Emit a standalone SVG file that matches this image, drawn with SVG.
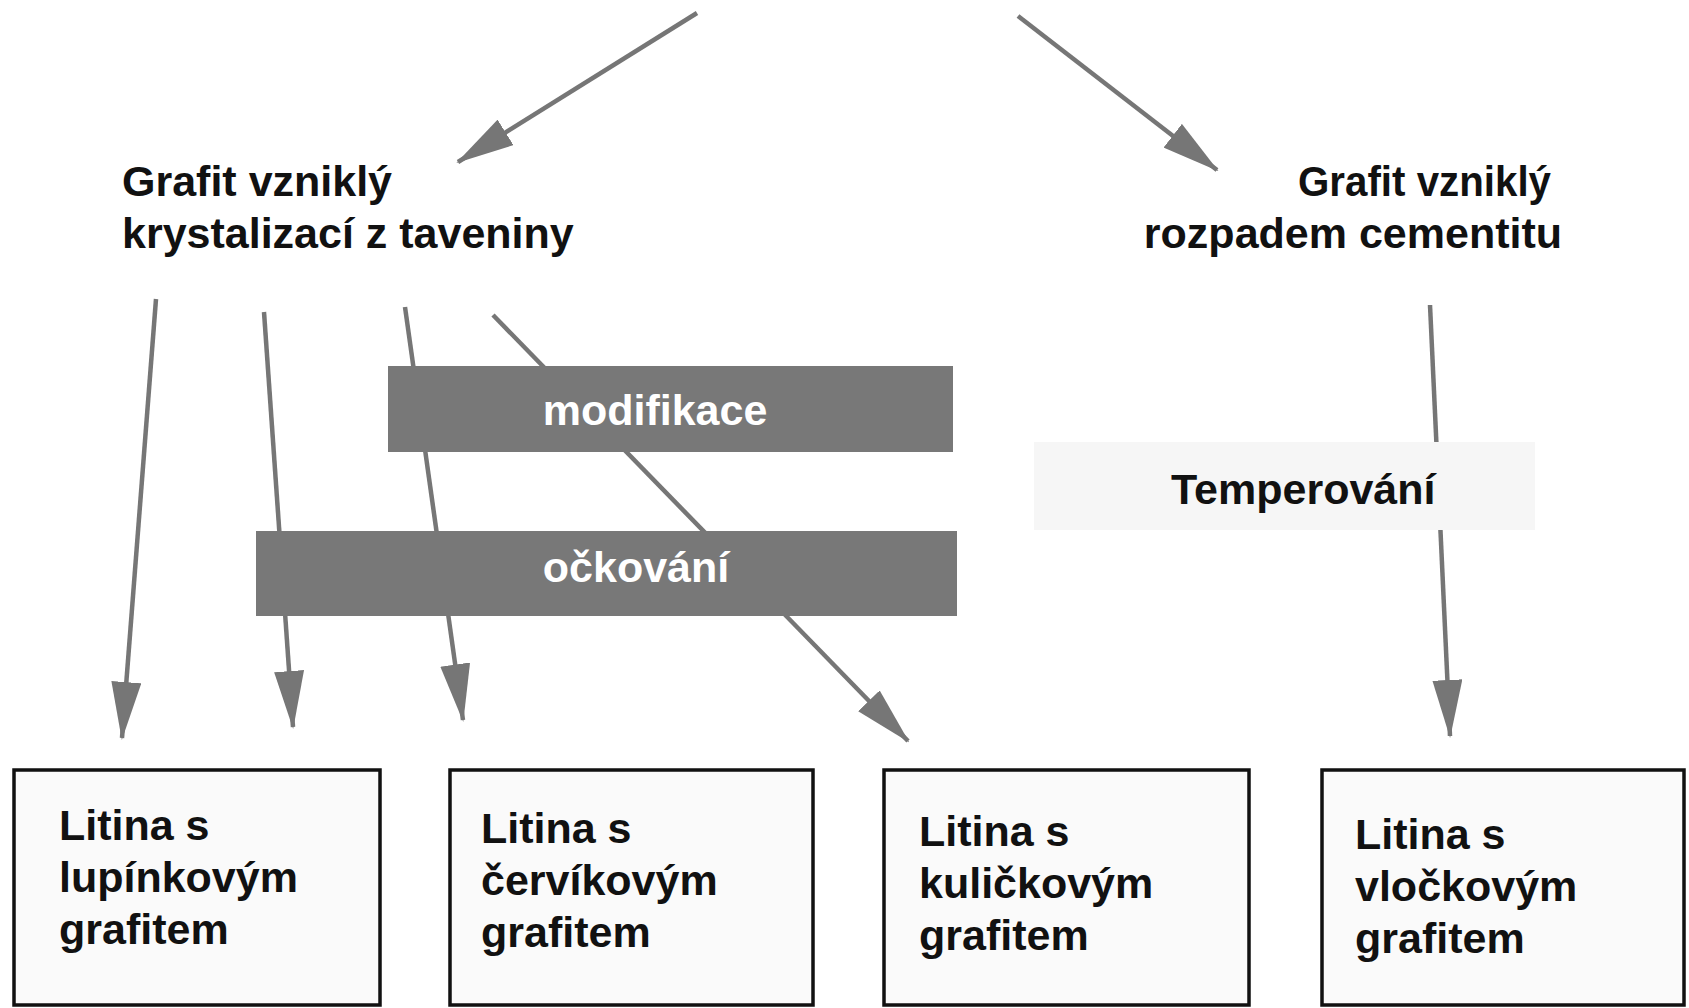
<svg xmlns="http://www.w3.org/2000/svg" width="1689" height="1008" viewBox="0 0 1689 1008">
  <style>
    .t { font-family: "Liberation Sans", Arial, sans-serif; font-weight: bold; font-size: 43px; fill: #111; }
    .tw { font-family: "Liberation Sans", Arial, sans-serif; font-weight: bold; font-size: 43px; fill: #fff; }
    .conn { stroke: #767676; stroke-width: 4.5; fill: none; marker-end: url(#ah); }
    .box { fill: #fafafa; stroke: #111; stroke-width: 3.5; }
    .dark { fill: #787878; }
  </style>
  <defs>
    <marker id="ah" markerUnits="userSpaceOnUse" markerWidth="58" markerHeight="30" refX="56" refY="15" orient="auto">
      <path d="M0,0 L58,15 L0,30 z" fill="#767676"/>
    </marker>
  </defs>
  <rect width="1689" height="1008" fill="#fff"/>

  <g id="connectors">
    <line class="conn" x1="697" y1="13" x2="458" y2="162"/>
    <line class="conn" x1="1018" y1="16" x2="1217" y2="170"/>
    <line class="conn" x1="156" y1="299" x2="122" y2="738"/>
    <line class="conn" x1="264" y1="312" x2="293" y2="727"/>
    <line class="conn" x1="405" y1="307" x2="463" y2="720"/>
    <line class="conn" x1="493" y1="315" x2="908" y2="741"/>
    <line class="conn" x1="1430" y1="305" x2="1450" y2="736"/>
  </g>

  <g id="heading-left">
    <text class="t" x="122" y="196">Grafit vzniklý</text>
    <text class="t" x="122" y="248">krystalizací z taveniny</text>
  </g>
  <g id="heading-right">
    <text class="t" x="1298" y="196" textLength="253" lengthAdjust="spacingAndGlyphs">Grafit vzniklý</text>
    <text class="t" x="1562" y="248" text-anchor="end">rozpadem cementitu</text>
  </g>

  <g id="modifikace">
    <rect class="dark" x="388" y="366" width="565" height="86"/>
    <text class="tw" x="655" y="425" text-anchor="middle">modifikace</text>
  </g>
  <g id="ockovani">
    <rect class="dark" x="256" y="531" width="701" height="85"/>
    <text class="tw" x="636" y="582" text-anchor="middle">očkování</text>
  </g>
  <g id="temperovani">
    <rect x="1034" y="442" width="501" height="88" fill="#f6f6f6"/>
    <text class="t" x="1171" y="504">Temperování</text>
  </g>

  <g id="box-lupinkovy">
    <rect class="box" x="14" y="770" width="366" height="235"/>
    <text class="t" x="59" y="840">Litina s</text>
    <text class="t" x="59" y="892">lupínkovým</text>
    <text class="t" x="59" y="944">grafitem</text>
  </g>
  <g id="box-cervikovy">
    <rect class="box" x="450" y="770" width="363" height="235"/>
    <text class="t" x="481" y="843">Litina s</text>
    <text class="t" x="481" y="895">červíkovým</text>
    <text class="t" x="481" y="947">grafitem</text>
  </g>
  <g id="box-kulickovy">
    <rect class="box" x="884" y="770" width="365" height="235"/>
    <text class="t" x="919" y="846">Litina s</text>
    <text class="t" x="919" y="898">kuličkovým</text>
    <text class="t" x="919" y="950">grafitem</text>
  </g>
  <g id="box-vlockovy">
    <rect class="box" x="1322" y="770" width="362" height="235"/>
    <text class="t" x="1355" y="849">Litina s</text>
    <text class="t" x="1355" y="901">vločkovým</text>
    <text class="t" x="1355" y="953">grafitem</text>
  </g>
</svg>
